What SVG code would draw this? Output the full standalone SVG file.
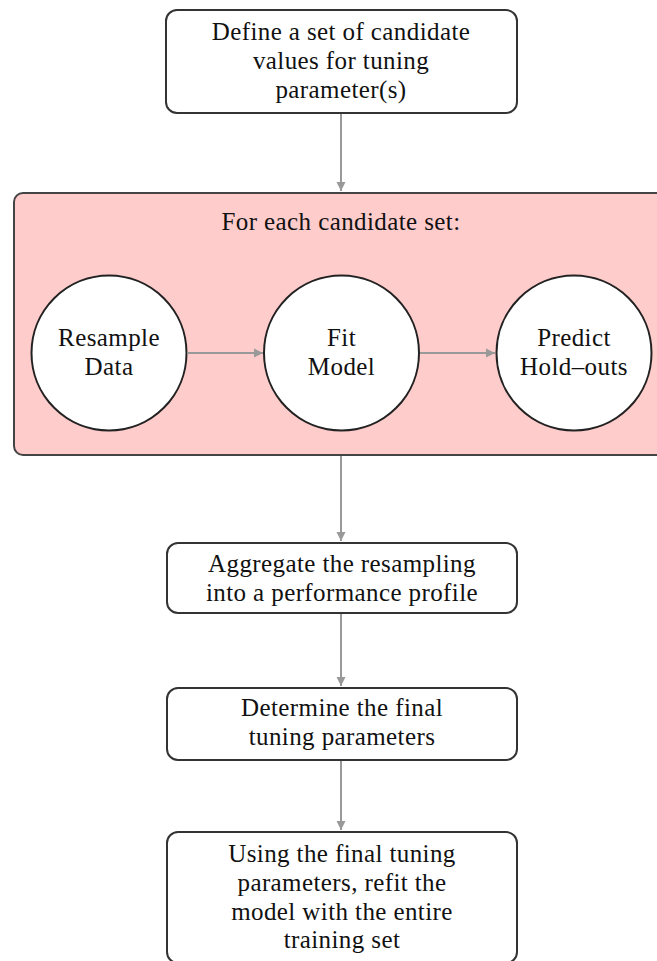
<svg xmlns="http://www.w3.org/2000/svg" width="657" height="961" viewBox="0 0 657 961">
<style>
.box{fill:#fff;stroke:#333;stroke-width:2}
.loop{fill:#ffcccc;stroke:#444;stroke-width:2}
.circ{fill:#fff;stroke:#222;stroke-width:2}
.t{font-family:'Liberation Serif','DejaVu Serif',serif;font-size:25px;fill:#111;text-anchor:middle;letter-spacing:0.4px}
.c{fill:none;stroke:#999;stroke-width:2}
</style>
<defs>
<marker id="ah" markerWidth="12" markerHeight="12" refX="9" refY="6" orient="auto" markerUnits="userSpaceOnUse">
<path d="M0,1.5 L9,6 L0,10.5 Z" fill="#999"/>
</marker>
</defs>
<g id="loop">
<rect class="loop" x="14" y="193" width="660" height="262" rx="9"/>
<text class="t" x="341" y="230">For each candidate set:</text>
</g>
<g id="define">
<rect class="box" x="166" y="10" width="351" height="103" rx="11"/>
<text class="t" x="341" y="40">Define a set of candidate</text>
<text class="t" x="341" y="69">values for tuning</text>
<text class="t" x="341" y="98">parameter(s)</text>
</g>
<g id="resample">
<circle class="circ" cx="109" cy="353" r="77.5"/>
<text class="t" x="109" y="346">Resample</text>
<text class="t" x="109" y="375">Data</text>
</g>
<g id="fit">
<circle class="circ" cx="341.5" cy="353" r="77.5"/>
<text class="t" x="341.5" y="346">Fit</text>
<text class="t" x="341.5" y="375">Model</text>
</g>
<g id="predict">
<circle class="circ" cx="574" cy="353" r="77.5"/>
<text class="t" x="574" y="346">Predict</text>
<text class="t" x="574" y="375">Hold–outs</text>
</g>
<g id="aggregate">
<rect class="box" x="167" y="543" width="350" height="70" rx="11"/>
<text class="t" x="342" y="572">Aggregate the resampling</text>
<text class="t" x="342" y="601">into a performance profile</text>
</g>
<g id="determine">
<rect class="box" x="167" y="688" width="350" height="72" rx="11"/>
<text class="t" x="342" y="716">Determine the final</text>
<text class="t" x="342" y="745">tuning parameters</text>
</g>
<g id="refit">
<rect class="box" x="167" y="832" width="350" height="131" rx="11"/>
<text class="t" x="342" y="862">Using the final tuning</text>
<text class="t" x="342" y="891">parameters, refit the</text>
<text class="t" x="342" y="920">model with the entire</text>
<text class="t" x="342" y="948">training set</text>
</g>
<g id="connectors">
<line class="c" x1="341" y1="114" x2="341" y2="191" marker-end="url(#ah)"/>
<line class="c" x1="187" y1="353" x2="263" y2="353" marker-end="url(#ah)"/>
<line class="c" x1="420" y1="353" x2="495" y2="353" marker-end="url(#ah)"/>
<line class="c" x1="341" y1="456" x2="341" y2="541" marker-end="url(#ah)"/>
<line class="c" x1="341" y1="614" x2="341" y2="686" marker-end="url(#ah)"/>
<line class="c" x1="341" y1="761" x2="341" y2="830" marker-end="url(#ah)"/>
</g>
</svg>
